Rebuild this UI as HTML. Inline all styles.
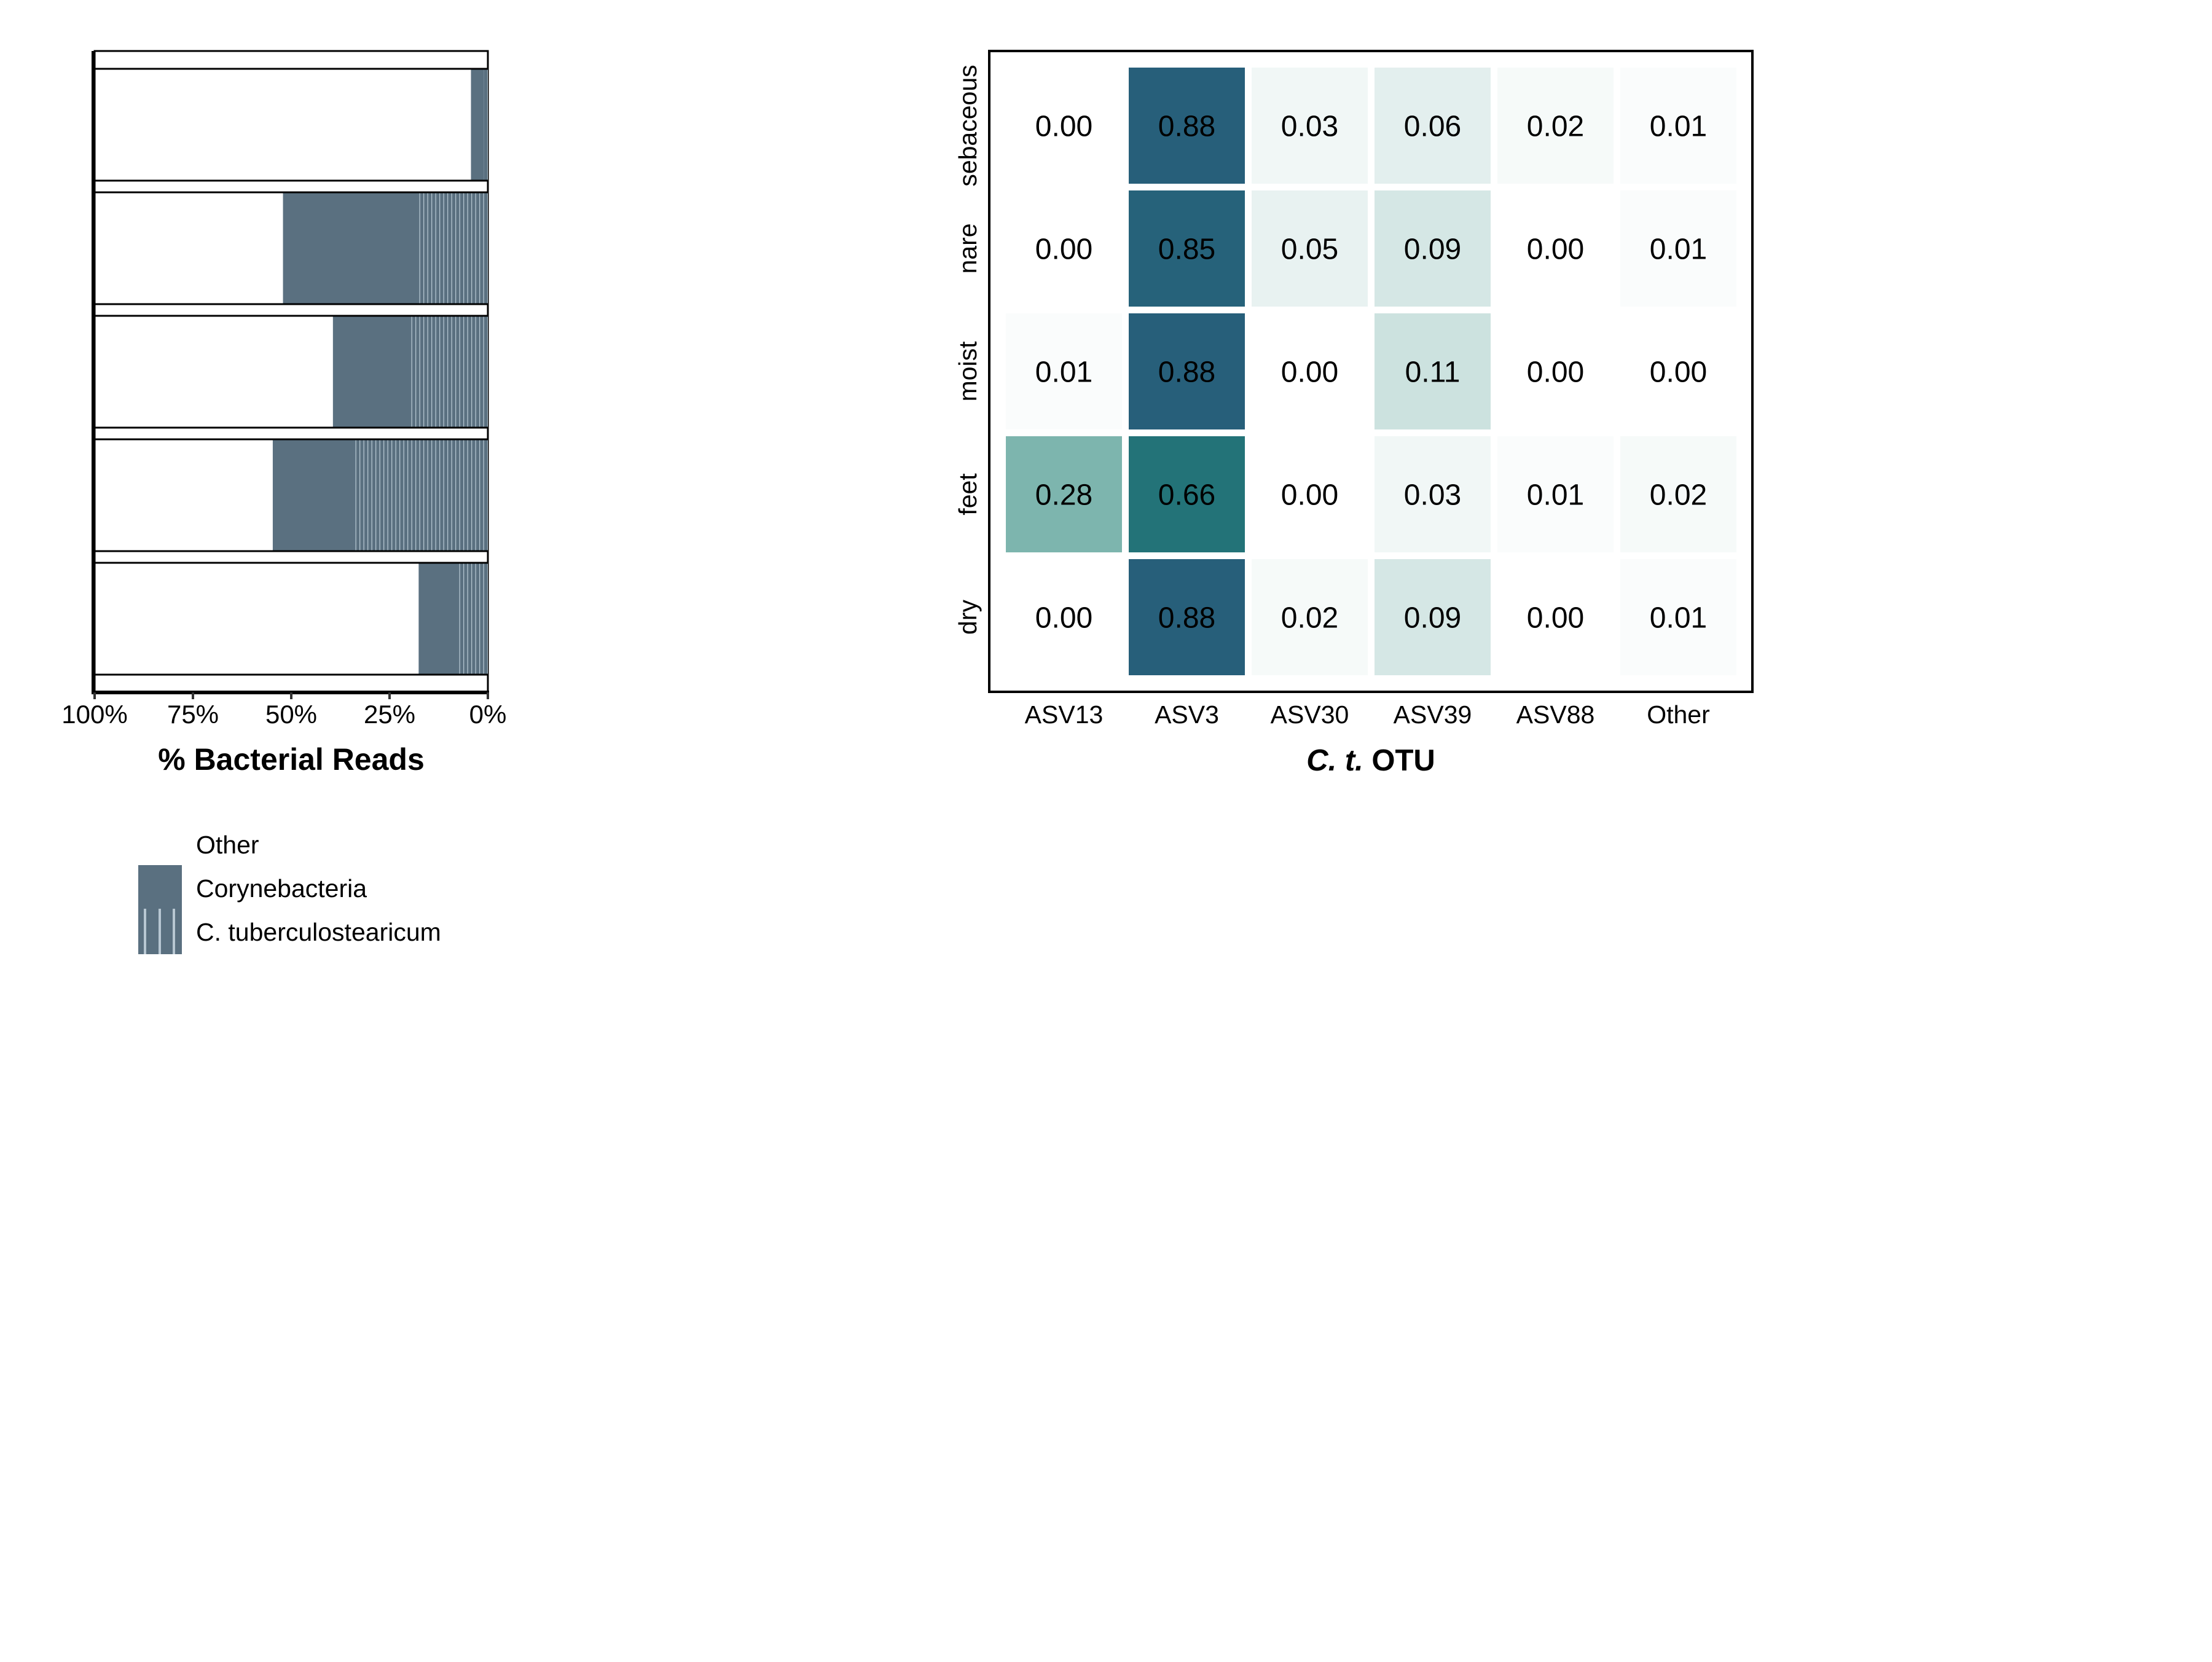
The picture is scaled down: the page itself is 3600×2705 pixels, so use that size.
<!DOCTYPE html>
<html><head><meta charset="utf-8"><style>
html,body{margin:0;padding:0;background:#fff;}
svg text{font-family:"Liberation Sans",Arial,sans-serif;}
</style></head><body>
<svg id="fig" width="3600" height="2700" viewBox="0 0 3600 2700" xmlns="http://www.w3.org/2000/svg">
<defs>
<pattern id="ctStripe" patternUnits="userSpaceOnUse" width="6.5" height="10">
<rect width="6.5" height="10" fill="#5a7080"/>
<rect x="0" width="1.3" height="10" fill="#b3c4cf"/>
</pattern>
</defs>
<g id="left"></g>
<g id="heat"></g>
<g id="legend">
<text x="319" y="1389" font-size="41">Other</text>
<rect x="225" y="1408" width="71" height="72" fill="#5a7080"/>
<text x="319" y="1460" font-size="41">Corynebacteria</text>
<rect x="225" y="1479" width="71" height="74" fill="#5a7080"/>
<rect x="234" y="1479" width="4" height="74" fill="#b8c7d2"/>
<rect x="258" y="1479" width="4" height="74" fill="#b8c7d2"/>
<rect x="281" y="1479" width="4" height="74" fill="#b8c7d2"/>
<text x="319" y="1531" font-size="41">C. tuberculostearicum</text>
</g>
</svg>
<script>
// ---- left chart data ----
const sites = ["sebaceous","nare","moist","feet","dry"];
const coryneTotal = [4.3, 52.1, 39.4, 54.7, 17.6]; // % Corynebacteria (incl. C.t.)
const ctPct = [1.0, 18.1, 20.0, 34.1, 8.0];        // % C. tuberculostearicum
const xTicks = [100, 75, 50, 25, 0];
const xTickLabels = ["100%","75%","50%","25%","0%"];

// ---- heatmap data ----
const otus = ["ASV13","ASV3","ASV30","ASV39","ASV88","Other"];
const rows = ["sebaceous","nare","moist","feet","dry"];
const vals = [
 [0.00,0.88,0.03,0.06,0.02,0.01],
 [0.00,0.85,0.05,0.09,0.00,0.01],
 [0.01,0.88,0.00,0.11,0.00,0.00],
 [0.28,0.66,0.00,0.03,0.01,0.02],
 [0.00,0.88,0.02,0.09,0.00,0.01]
];

const NS="http://www.w3.org/2000/svg";
function mk(tag, attrs, parent){const e=document.createElementNS(NS,tag);for(const k in attrs)e.setAttribute(k,attrs[k]);parent.appendChild(e);return e;}

// left chart
const L=document.getElementById('left');
const ax0=154, ax1=794; // 100% -> 0%
function xPct(p){return ax1-(p/100)*(ax1-ax0);}
const top0=83, stripH=29, midStrip=19, panelH=182;
let y=top0;
let s=mk('rect',{x:ax0,y:y,width:ax1-ax0,height:stripH,fill:'#fff',stroke:'#000','stroke-width':3},L);


y+=stripH;
sites.forEach((site,i)=>{
  const p=mk('rect',{x:ax0,y:y,width:ax1-ax0,height:panelH,fill:'#fff',stroke:'#000','stroke-width':3},L);
  
  
  const c=mk('rect',{x:xPct(coryneTotal[i]),y:y+1.5,width:xPct(0)-xPct(coryneTotal[i]),height:panelH-3,fill:'#5a7080'},L);
  
  
  const t=mk('rect',{x:xPct(ctPct[i]),y:y+1.5,width:xPct(0)-xPct(ctPct[i]),height:panelH-3,fill:'url(#ctStripe)'},L);
  
  
  y+=panelH;
  const h=(i<sites.length-1)?midStrip:stripH;
  const st=mk('rect',{x:ax0,y:y,width:ax1-ax0,height:h,fill:'#fff',stroke:'#000','stroke-width':3},L);
  
  
  y+=h;
});
const axY=y;
let a=mk('line',{x1:ax0-2,y1:top0,x2:ax0-2,y2:axY+2,stroke:'#000','stroke-width':6},L);


a=mk('line',{x1:ax0-5,y1:axY,x2:ax1+2,y2:axY,stroke:'#000','stroke-width':6},L);


xTicks.forEach((v,i)=>{
  const tk=mk('line',{x1:xPct(v),y1:axY,x2:xPct(v),y2:axY+11,stroke:'#333','stroke-width':4},L);
  
  
  const tl=mk('text',{x:xPct(v),y:axY+50,'font-size':42,'text-anchor':'middle',fill:'#000'},L);
  tl.textContent=xTickLabels[i];
  
  
});
const lt=mk('text',{x:(ax0+ax1)/2,y:1253,'font-size':50,'font-weight':'bold','text-anchor':'middle'},L);
lt.textContent='% Bacterial Reads';



// heatmap
const H=document.getElementById('heat');
const px0=1610, px1=2852, py0=83, py1=1126;
const tx0=1637, ty0=110, cw=200, rh=200, gap=11;
function colX(i){return tx0+i*cw;}
function rowY(j){return ty0+j*rh;}
function lerp(a,b,t){return a+(b-a)*t;}
function color(v){
  const stops=[[0,[255,255,255]],[0.28,[125,181,174]],[0.66,[35,115,120]],[0.88,[39,95,122]]];
  let k=0; while(k<stops.length-2 && v>stops[k+1][0]) k++;
  const [v0,c0]=stops[k],[v1,c1]=stops[k+1];
  const t=Math.max(0,Math.min(1,(v-v0)/(v1-v0)));
  return 'rgb('+c0.map((c,n)=>Math.round(lerp(c,c1[n],t))).join(',')+')';
}
const bd=mk('rect',{x:px0,y:py0,width:px1-px0,height:py1-py0,fill:'#fff',stroke:'#000','stroke-width':4},H);


rows.forEach((r,j)=>{
  otus.forEach((o,i)=>{
    const v=vals[j][i];
    const c=mk('rect',{x:colX(i),y:rowY(j),width:cw-gap,height:rh-gap,fill:color(v)},H);
    
    
    const t=mk('text',{x:colX(i)+(cw-gap)/2,y:rowY(j)+(rh-gap)/2+17,'font-size':48,'text-anchor':'middle',fill:'#000'},H);
    t.textContent=v.toFixed(2);
    
    
  });
  const cy=rowY(j)+(rh-gap)/2;
  const yl=mk('text',{x:1589,y:cy,'font-size':41,'text-anchor':'middle',transform:'rotate(-90 1589 '+cy+')'},H);
  yl.textContent=r;
  
  
});
otus.forEach((o,i)=>{
  const xl=mk('text',{x:colX(i)+(cw-gap)/2,y:1177,'font-size':41,'text-anchor':'middle'},H);
  xl.textContent=o;
  
  
});
const ht=mk('text',{x:2231,y:1254,'font-size':49,'font-weight':'bold','text-anchor':'middle'},H);
ht.innerHTML='<tspan font-style="italic">C. t.</tspan> OTU';


</script>
</body></html>
